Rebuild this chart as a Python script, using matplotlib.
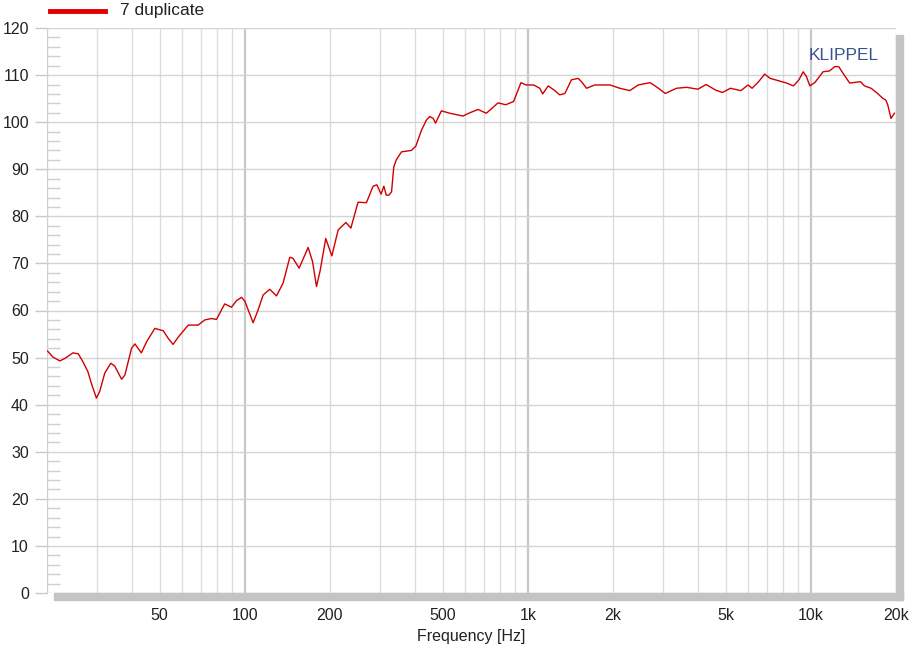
import matplotlib
matplotlib.use("Agg")
import matplotlib.pyplot as plt
from matplotlib.patches import Rectangle
from matplotlib.ticker import FixedLocator, NullFormatter

plt.rcParams['font.family'] = ['Liberation Sans', 'DejaVu Sans']

# Frequency response data (Hz, dB)
freq_hz = [20.08, 21.0, 22.2, 23.1, 24.7, 25.8, 26.8, 27.9, 28.7, 29.9, 30.7, 32.0,
           33.6, 34.7, 36.7, 37.7, 39.8, 40.9, 43.1, 45.0, 48.1, 51.5, 53.6, 55.8,
           58.1, 63.1, 68.4, 72.2, 76.3, 79.4, 82.7, 84.9, 89.7, 93.5, 97.4, 100,
           107, 111.4, 116.1, 122.5, 129.4, 136.5, 144.2, 147.9, 155.6, 167.4, 173.5,
           179.2, 184.8, 193.2, 199.6, 203, 213.7, 227.6, 237, 251.3, 269, 284, 293,
           303, 310, 316, 323, 330, 336, 343, 358, 388, 402, 421, 438.7, 450.5, 463,
           472, 495, 530, 590, 624, 667, 695, 714, 785, 836, 891, 946, 985, 1049,
           1102, 1129, 1180, 1240, 1297, 1352, 1427, 1507, 1548, 1612, 1725, 1953,
           2114, 2293, 2454, 2706, 2895, 3060, 3354, 3636, 3992, 4266, 4615, 4870,
           5200, 5660, 6000, 6200, 6540, 6870, 7190, 7680, 8220, 8680, 9080, 9400,
           9650, 9920, 10330, 11050, 11660, 12150, 12550, 12990, 13720, 14980, 15470,
           16330, 17220, 17920, 18400, 18700, 19200, 19740]
spl_db = [51.4, 50.1, 49.3, 49.8, 51.0, 50.8, 49.1, 47.0, 44.5, 41.4, 42.8, 46.7,
          48.8, 48.2, 45.4, 46.3, 52.0, 52.9, 51.0, 53.4, 56.2, 55.7, 54.1, 52.8,
          54.3, 56.9, 56.9, 58.0, 58.3, 58.1, 60.1, 61.4, 60.7, 62.1, 62.8, 62.0,
          57.4, 60.1, 63.3, 64.5, 63.1, 65.8, 71.3, 71.1, 69.0, 73.4, 70.4,
          65.1, 68.6, 75.3, 72.9, 71.6, 77.1, 78.7, 77.5, 83.0, 82.9, 86.4, 86.7,
          84.7, 86.4, 84.5, 84.5, 85.2, 90.5, 92.0, 93.7, 94.0, 94.9, 98.3, 100.5, 101.2, 100.8,
          99.8, 102.4, 101.9, 101.3, 102.0, 102.7, 102.2, 101.9, 104.1, 103.7, 104.4, 108.4, 107.9, 107.9,
          107.2, 106.0, 107.7, 106.8, 105.8, 106.1, 109.0, 109.3, 108.6, 107.2, 107.9, 107.9,
          107.2, 106.7, 107.9, 108.4, 107.2, 106.1, 107.2, 107.4, 107.0, 108.0, 106.8, 106.3,
          107.2, 106.7, 107.9, 107.2, 108.6, 110.2, 109.3, 108.8, 108.3, 107.7, 109.0, 110.7,
          109.7, 107.7, 108.4, 110.7, 110.9, 111.8, 111.8, 110.4, 108.3, 108.6, 107.7,
          107.2, 106.1, 105.1, 104.7, 103.7, 100.8, 101.9]

xtick_vals = [50, 100, 200, 500, 1000, 2000, 5000, 10000, 20000]
xtick_labels = ["50", "100", "200", "500", "1k", "2k", "5k", "10k", "20k"]
ytick_vals = list(range(0, 121, 10))

fig = plt.figure(figsize=(9.24, 6.53), dpi=100)
fig.patch.set_facecolor("white")
ax = fig.add_axes([47/924, 1-593/653, (896-47)/924, (593-28)/653])

# shadow (3D effect) to the right and below the plot area
fig.patches.append(Rectangle((54/924, 1-600/653), (903-54)/924, 7/653,
                             transform=fig.transFigure, color="#c4c4c4", zorder=0))
fig.patches.append(Rectangle((896/924, 1-600/653), 7/924, (600-35)/653,
                             transform=fig.transFigure, color="#c4c4c4", zorder=0))

ax.set_xscale("log")
ax.set_xlim(20, 20000)
ax.set_ylim(0, 120)

# grid lines
minor_x = []
for dec in [10, 100, 1000, 10000]:
    for m in range(2, 10):
        v = m * dec
        if 20 <= v <= 20000:
            minor_x.append(v)
for v in minor_x:
    ax.axvline(v, color="#dcdcdc", lw=1.0, zorder=1)
for v in [100, 1000, 10000]:
    ax.axvline(v, color="#c8c8c8", lw=1.6, zorder=1)
for v in ytick_vals:
    ax.axhline(v, color="#d4d4d4", lw=1.0, zorder=1)

ax.plot(freq_hz, spl_db, color="#d00000", lw=1.0, zorder=3)

ax.xaxis.set_major_locator(FixedLocator(xtick_vals))
ax.set_xticklabels(xtick_labels)
ax.xaxis.set_minor_locator(FixedLocator([]))
ax.xaxis.set_minor_formatter(NullFormatter())
ax.tick_params(axis="x", which="major", length=0, pad=11, labelsize=11.5, colors="#222222")

ax.set_yticks(ytick_vals)
ax.set_yticks(list(range(0, 121, 2)), minor=True)
ax.tick_params(axis="y", which="major", length=9, width=1, color="#c8c8c8",
               pad=4, labelsize=11.5, labelcolor="#222222")
ax.tick_params(axis="y", which="minor", length=9, width=1, color="#d0d0d0", direction="in")

for s in ["top", "right", "bottom"]:
    ax.spines[s].set_visible(False)
ax.spines["left"].set_color("#d0d0d0")

ax.set_xlabel("Frequency [Hz]", fontsize=11.5, color="#222222", labelpad=4)

# legend
fig.lines.append(plt.Line2D([50/924, 105/924], [1-11/653, 1-11/653],
                            transform=fig.transFigure, color="#e00000", lw=3.5))
fig.text(120/924, 1-11/653, "7 duplicate", fontsize=12.5, va="center", ha="left", color="#222222")

fig.text(844/924, 1-55/653, "KLIPPEL", fontsize=12.5, va="center", ha="center", color="#3a5490")

fig.savefig("out.png", dpi=100, facecolor="white")
